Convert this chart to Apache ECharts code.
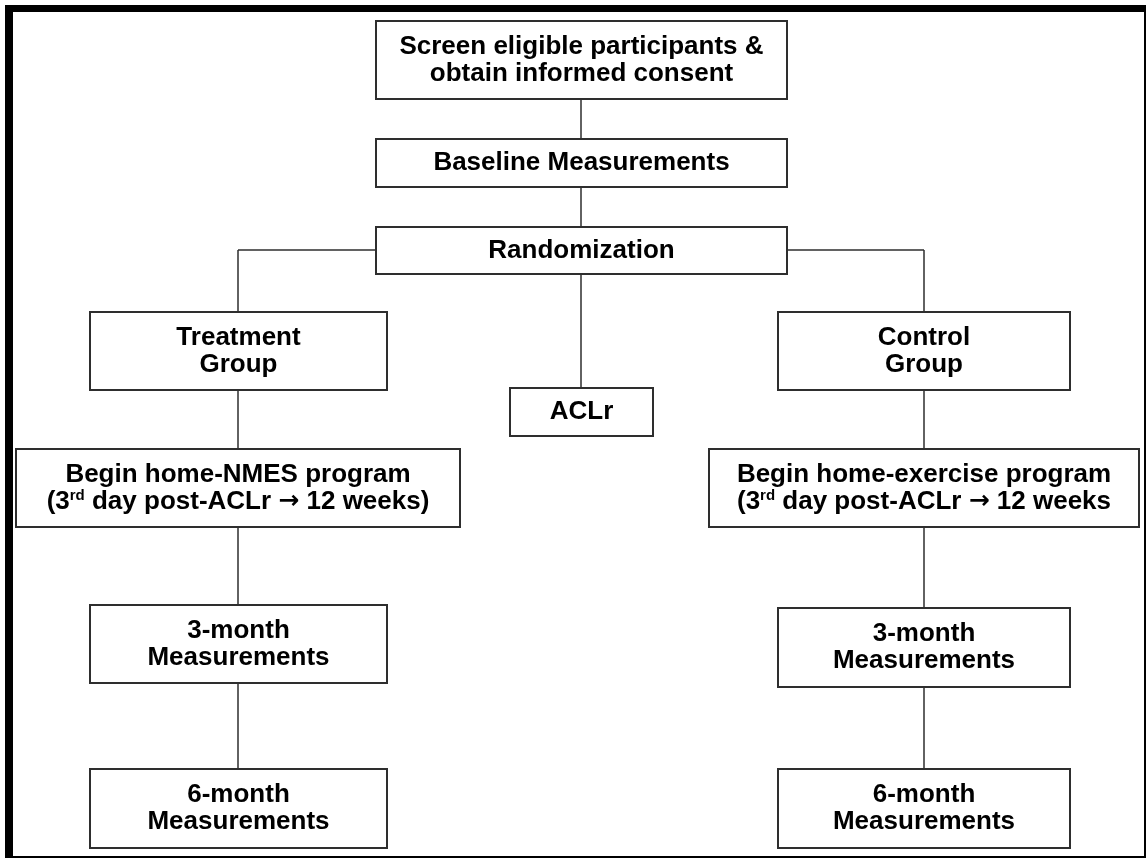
<!DOCTYPE html>
<html>
<head>
<meta charset="utf-8">
<script src="https://cdn.jsdelivr.net/npm/echarts@6/dist/echarts.min.js"></script>
<style>
html, body { margin: 0; padding: 0; background: #fff; }
#chart { width: 1146px; height: 860px; }
</style>
</head>
<body>
<div id="chart"></div>
<script>
// flowchart steps (labels)
const stepIds = ['consent', 'baseline', 'random', 'treatment', 'aclr', 'control',
    'nmes', 'exercise', 'treat3', 'ctrl3', 'treat6', 'ctrl6', 'joinL', 'joinR'];
const stepLabels = [
    'Screen eligible participants &\nobtain informed consent',
    'Baseline Measurements',
    'Randomization',
    'Treatment\nGroup',
    'ACLr',
    'Control\nGroup',
    'Begin home-NMES program\n(3{sup|rd} day post-ACLr {arr|→} 12 weeks)',
    'Begin home-exercise program\n(3{sup|rd} day post-ACLr {arr|→} 12 weeks',
    '3-month\nMeasurements',
    '3-month\nMeasurements',
    '6-month\nMeasurements',
    '6-month\nMeasurements',
    '',
    ''
];
// connections between steps
const stepLinks = [
    ['consent', 'baseline'],
    ['baseline', 'random'],
    ['random', 'aclr'],
    ['random', 'joinL'],
    ['joinL', 'treatment'],
    ['random', 'joinR'],
    ['joinR', 'control'],
    ['treatment', 'nmes'],
    ['nmes', 'treat3'],
    ['treat3', 'treat6'],
    ['control', 'exercise'],
    ['exercise', 'ctrl3'],
    ['ctrl3', 'ctrl6']
];

// layout: box centres (px) and sizes
const boxX = [581, 581, 581, 238, 581, 924, 238, 924, 238, 924, 238, 924, 238, 924];
const boxY = [60, 163, 250, 351, 412, 351, 488, 488, 644, 647, 808, 808, 250, 250];
const boxW = [411, 411, 411, 297, 143, 292, 444, 430, 297, 292, 297, 292, 0, 0];
const boxH = [78, 48, 47, 78, 48, 78, 78, 78, 78, 79, 79, 79, 0, 0];

const font = '"Liberation Sans", Arial, sans-serif';

const boxData = [];
stepIds.forEach((id, i) => {
    if (boxW[i] > 0) boxData.push([boxX[i], boxY[i], boxW[i], boxH[i], i]);
});

const linkData = stepLinks.map(l => {
    const a = stepIds.indexOf(l[0]);
    const b = stepIds.indexOf(l[1]);
    return {coords: [[boxX[a], boxY[a]], [boxX[b], boxY[b]]]};
});

function renderBox(params, api) {
    const x = api.value(0), y = api.value(1), w = api.value(2), h = api.value(3);
    const idx = api.value(4);
    const p0 = api.coord([x - w / 2, y - h / 2]);
    const p1 = api.coord([x + w / 2, y + h / 2]);
    return {
        type: 'rect',
        shape: {
            x: Math.round(p0[0]),
            y: Math.round(p0[1]),
            width: Math.round(p1[0] - p0[0]),
            height: Math.round(p1[1] - p0[1])
        },
        style: {fill: '#fff', stroke: '#2e2e2e', lineWidth: 2},
        textContent: {
            type: 'text',
            style: {
                text: stepLabels[idx],
                fill: '#000',
                fontFamily: font,
                fontWeight: 'bold',
                fontSize: 26,
                lineHeight: 27,
                align: 'center',
                rich: {
                    sup: {
                        fill: '#000',
                        fontFamily: font,
                        fontWeight: 'bold',
                        fontSize: 15,
                        lineHeight: 16,
                        verticalAlign: 'top'
                    },
                    arr: {
                        fill: '#000',
                        fontFamily: '"DejaVu Sans", sans-serif',
                        fontWeight: 'bold',
                        fontSize: 25,
                        lineHeight: 27
                    }
                }
            }
        },
        textConfig: {position: 'inside'}
    };
}

const chart = echarts.init(document.getElementById('chart'));

const option = {
    animation: false,
    grid: {left: 0, right: 0, top: 0, bottom: 0},
    xAxis: {type: 'value', min: 0, max: 1146, show: false},
    yAxis: {type: 'value', min: 0, max: 860, inverse: true, show: false},
    graphic: [
        {type: 'rect', z: -10, shape: {x: 5, y: 5, width: 1141, height: 853}, style: {fill: '#000'}},
        {type: 'rect', z: -9, shape: {x: 13, y: 12, width: 1131, height: 844}, style: {fill: '#fff'}}
    ],
    series: [
        {
            type: 'lines',
            coordinateSystem: 'cartesian2d',
            silent: true,
            z: 1,
            symbol: ['none', 'none'],
            lineStyle: {color: '#2e2e2e', width: 1.5, opacity: 1, curveness: 0},
            data: linkData
        },
        {
            type: 'custom',
            coordinateSystem: 'cartesian2d',
            silent: true,
            z: 3,
            renderItem: renderBox,
            data: boxData
        }
    ]
};

chart.setOption(option);
</script>
</body>
</html>
